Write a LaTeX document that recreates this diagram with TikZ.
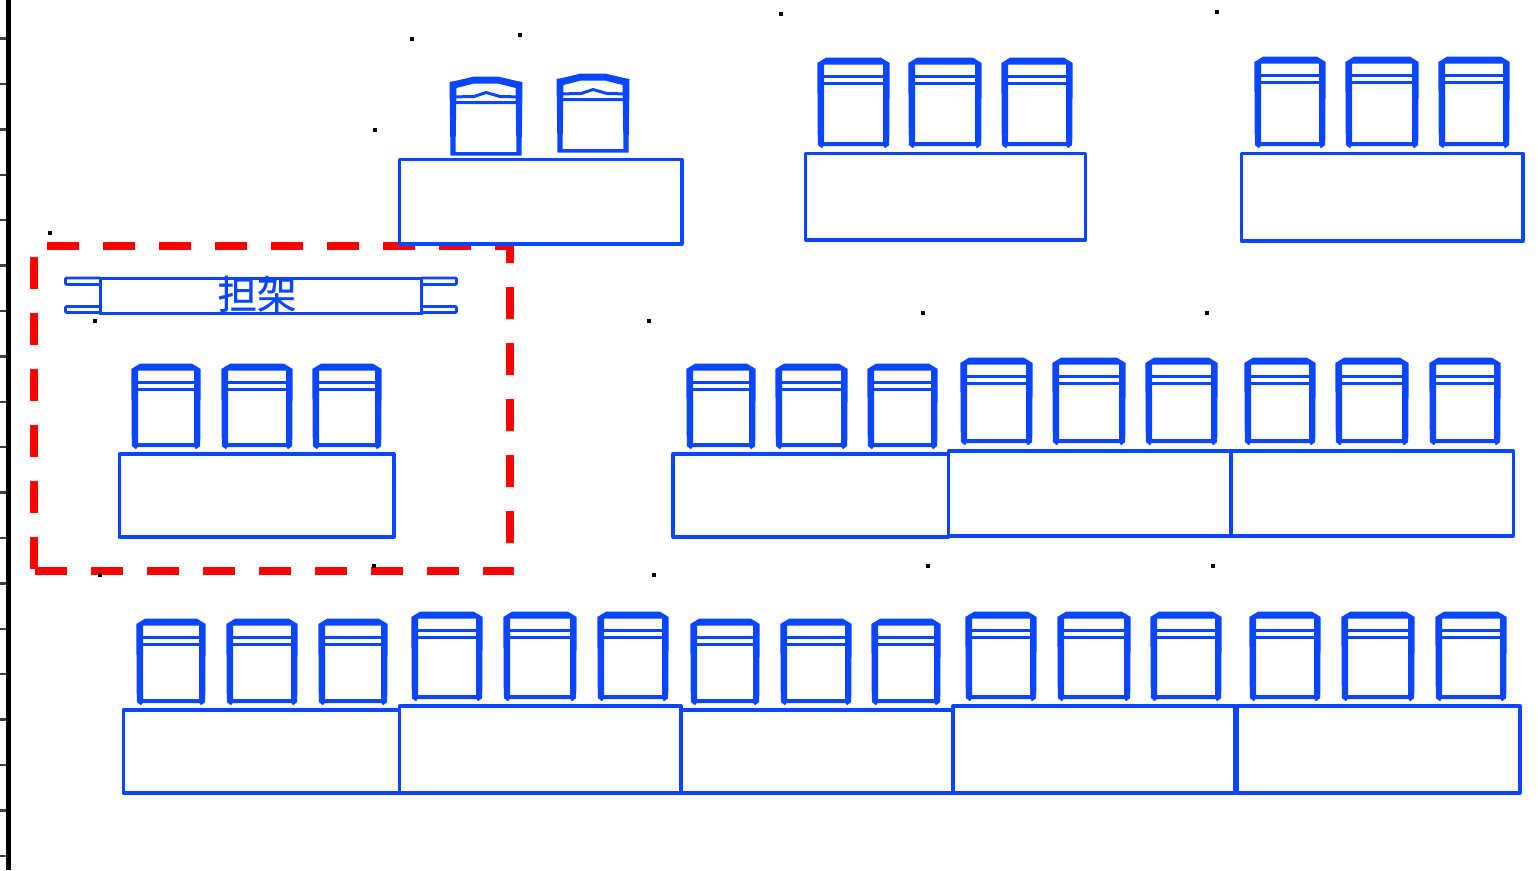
\documentclass[tikz,border=0pt]{standalone}
\usepackage{fontspec}
\newfontfamily\cjkfont[FakeBold=0.5]{Noto Sans CJK SC}
\definecolor{planblue}{HTML}{0A46FF}
\tikzset{
  plat/.style={draw=planblue,line width=3.2pt,line join=round},
  frame/.style={fill=planblue,even odd rule,draw=none},
  bar/.style={draw=planblue,line width=3pt},
  thin bar/.style={draw=planblue,line width=2.6pt,rounded corners=1pt},
  redline/.style={draw=red,line width=8pt,dash pattern=on 32pt off 24pt},
  speck/.style={fill=black,draw=none}
}
\newcommand{\chair}[4]{%
  \path[frame] ({#1-.7},{#2+5}) -- ({#1+8},{#2-.3}) -- ({#3-8},{#2-.3}) -- ({#3+.7},{#2+5}) -- ({#3+.2},{#4-3}) -- ({#3-4},{#4+.3}) -- ({#3-5.5},{#4-2}) -- ({#1+5.5},{#4-2}) -- ({#1+4},{#4+.3}) -- ({#1-.2},{#4-3}) -- cycle
    ({#1+6},{#2+6.5}) -- ({#3-6},{#2+6.5}) -- ({#3-6},{#4-6}) -- ({#1+6},{#4-6}) -- cycle;
  \draw[bar] (#1,{#2+18}) -- (#3,{#2+18}) (#1,{#2+25.3}) -- (#3,{#2+25.3});
}
\newcommand{\archchair}[4]{%
  \path[frame] ({#1-.5},{#2+5}) -- ({#1+5},{#2+4}) -- ({#1+24},{#2-.5}) -- ({#3-24},{#2-.5}) -- ({#3-5},{#2+4}) -- ({#3+.5},{#2+5}) -- ({#3-.5},{#4+.5}) -- ({#1+.5},{#4+.5}) -- cycle
    ({#1+6.5},{#2+11}) -- ({#1+24},{#2+6.5}) -- ({#3-24},{#2+6.5}) -- ({#3-6.5},{#2+11}) -- ({#3-5.5},{#4-3}) -- ({#1+5.5},{#4-3}) -- cycle;
  \draw[bar] (#1,{#2+20}) -- ({#1+24},{#2+19.5}) -- ({#1+36},{#2+15.5}) -- ({#3-22},{#2+19.5}) -- (#3,{#2+20})
     (#1,{#2+25.5}) -- (#3,{#2+25.5});
}
\newcommand{\speckat}[2]{\path[speck] ({#1-1.7},{#2-1.7}) rectangle ({#1+1.7},{#2+1.7});}
\begin{document}
\begin{tikzpicture}[x=1pt,y=-1pt]
\useasboundingbox[fill=white] (0,0) rectangle (1538,870);
% left ruler
\fill[black] (6,0) rectangle (11,870);
\foreach \k in {0,...,18}{\draw[black!75,line width=2.4pt] (0,{38.5+45.4*\k}) -- (6,{38.5+45.4*\k});}
% red dashed frame
\draw[redline] (47,245.5) -- (510,245.5) -- (510,571) -- (34,571);
\draw[redline] (34,569) -- (34,246);
% specks
\foreach \a/\b in {412/39,520/35,781/14,1217/12,375/130,50/233,95/321,649/321,923/313,1207/313,100/575,374/566,654/575,928/566,1213/566}{\speckat{\a}{\b}}
% platforms
\draw[plat] (399.5,159.5) rectangle (682,244);
\draw[plat] (805.5,153.5) rectangle (1085.5,240);
\draw[plat] (1241.5,153.5) rectangle (1523,241);
\draw[plat] (119.5,454) rectangle (394,537);
\draw[plat] (673,454) rectangle (948.5,537);
\draw[plat] (948.5,451) rectangle (1231,536);
\draw[plat] (1231,451) rectangle (1513.5,536);
\draw[plat] (123.5,710) rectangle (399.5,793);
\draw[plat] (399.5,706) rectangle (681,793);
\draw[plat] (681,710) rectangle (953,793);
\draw[plat] (953,706) rectangle (1235,793);
\draw[plat] (1237,706) rectangle (1520,793);
% chairs
\archchair{450}{77}{522}{155}
\archchair{557}{74}{629}{152}
\foreach \l/\r in {818/889,909/981,1002/1072}{\chair{\l}{58}{\r}{148}}
\foreach \l/\r in {1255/1325,1346/1418,1439/1509}{\chair{\l}{57}{\r}{148}}
\foreach \l/\r in {132/200,222/292,313/381,687/755,776/847,868/937}{\chair{\l}{364}{\r}{449}}
\foreach \l/\r in {961/1032,1053/1125,1146/1217,1245/1315,1336/1408,1430/1500}{\chair{\l}{358}{\r}{445}}
\foreach \l/\r in {137/205,227/297,319/387,691/759,781/851,872/940}{\chair{\l}{619}{\r}{705}}
\foreach \l/\r in {412/482,504/576,598/668,966/1036,1058/1130,1151/1221,1250/1320,1342/1414,1436/1506}{\chair{\l}{612}{\r}{701}}
% stretcher
\draw[bar] (100,278) rectangle (421,313);
\draw[thin bar] (100,278) -- (65.5,278) -- (65.5,284.5) -- (100,284.5);
\draw[thin bar] (100,306.5) -- (65.5,306.5) -- (65.5,312.5) -- (100,312.5);
\draw[thin bar] (421,278) -- (456.5,278) -- (456.5,284.5) -- (421,284.5);
\draw[thin bar] (421,306.5) -- (456.5,306.5) -- (456.5,312.5) -- (421,312.5);
\node[text=planblue,font=\cjkfont\fontsize{39.5}{39.5}\selectfont,inner sep=0pt] (label) at (257,294) {担架};
\end{tikzpicture}
\end{document}
